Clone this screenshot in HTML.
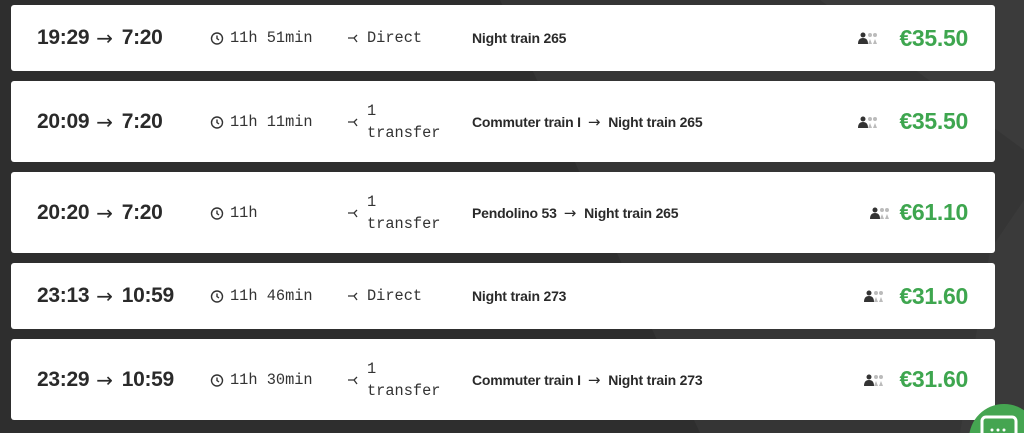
<!DOCTYPE html>
<html><head><meta charset="utf-8"><style>
*{margin:0;padding:0;box-sizing:border-box}
html,body{width:1024px;height:433px;overflow:hidden}
body{position:relative;background:#2e2e2e;font-family:"Liberation Sans",sans-serif;color:#2a2a2a}
.bg{position:absolute;inset:0;display:block}
.card{position:absolute;left:11px;width:984px;background:#fff;border-radius:3px}
.c{position:absolute;top:0;bottom:0;display:flex;align-items:center;white-space:nowrap}
.a{font-family:"DejaVu Sans",sans-serif;font-weight:normal}
.time{left:26px;font-size:21px;font-weight:bold;letter-spacing:-0.3px}
.time .a{font-size:20px;margin:0 9px 0 7px}
.dur{left:199px;font-family:"Liberation Mono",monospace;font-size:15.3px;color:#333}
.tr{left:336px;font-family:"Liberation Mono",monospace;font-size:15.3px;color:#333;line-height:22px}
.train{left:461px;font-size:14px;font-weight:bold;letter-spacing:-0.2px}
.train .a{font-size:15px;margin:0 8px 0 7px}
.price{right:27px;font-size:23px;font-weight:bold;color:#3ea64f;letter-spacing:-0.3px}
.ppl{position:absolute;top:0;bottom:0;display:flex;align-items:center}
svg.i{margin-right:6px}
</style></head><body>
<svg class="bg" width="1024" height="433"><polygon points="500,0 1024,0 1024,433 700,433" fill="#353535"/><polygon points="820,0 1024,0 1024,150" fill="#3b3b3b"/><polygon points="990,250 1024,200 1024,433 960,433" fill="#3a3a3a"/></svg>

<div class="card" style="top:5px;height:66px">
<div class="c time">19:29<span class="a">→</span>7:20</div>
<div class="c dur"><svg class="i" width="14" height="14" viewBox="0 0 14 14"><circle cx="7" cy="7.5" r="5.5" fill="none" stroke="#333" stroke-width="1.4"/><path d="M7 4.5V7.5L9 9" stroke="#333" stroke-width="1.4" fill="none"/></svg>11h 51min</div>
<div class="c tr"><svg class="i" width="14" height="12" viewBox="0 0 14 12"><path d="M1 6H7L10 3M7 6L10 10" stroke="#333" stroke-width="1.3" fill="none"/></svg>Direct</div>
<div class="c train">Night train 265</div>
<div class="ppl" style="right:117px"><svg width="20" height="12"><circle cx="5" cy="3" r="2.5" fill="#333"/><path d="M0 12Q0 6 5 6Q10 6 10 12Z" fill="#333"/><circle cx="12" cy="3" r="2" fill="#bbb"/><circle cx="17" cy="3" r="2" fill="#bbb"/><path d="M10 12L12 7L14 12M15 12L17 7L19 12" fill="#bbb"/></svg></div>
<div class="c price">€35.50</div>
</div>

<div class="card" style="top:81px;height:81px">
<div class="c time">20:09<span class="a">→</span>7:20</div>
<div class="c dur"><svg class="i" width="14" height="14" viewBox="0 0 14 14"><circle cx="7" cy="7.5" r="5.5" fill="none" stroke="#333" stroke-width="1.4"/><path d="M7 4.5V7.5L9 9" stroke="#333" stroke-width="1.4" fill="none"/></svg>11h 11min</div>
<div class="c tr"><svg class="i" width="14" height="12" viewBox="0 0 14 12"><path d="M1 6H7L10 3M7 6L10 10" stroke="#333" stroke-width="1.3" fill="none"/></svg><span>1<br>transfer</span></div>
<div class="c train">Commuter train I<span class="a">→</span>Night train 265</div>
<div class="ppl" style="right:117px"><svg width="20" height="12"><circle cx="5" cy="3" r="2.5" fill="#333"/><path d="M0 12Q0 6 5 6Q10 6 10 12Z" fill="#333"/><circle cx="12" cy="3" r="2" fill="#bbb"/><circle cx="17" cy="3" r="2" fill="#bbb"/><path d="M10 12L12 7L14 12M15 12L17 7L19 12" fill="#bbb"/></svg></div>
<div class="c price">€35.50</div>
</div>

<div class="card" style="top:172px;height:81px">
<div class="c time">20:20<span class="a">→</span>7:20</div>
<div class="c dur"><svg class="i" width="14" height="14" viewBox="0 0 14 14"><circle cx="7" cy="7.5" r="5.5" fill="none" stroke="#333" stroke-width="1.4"/><path d="M7 4.5V7.5L9 9" stroke="#333" stroke-width="1.4" fill="none"/></svg>11h</div>
<div class="c tr"><svg class="i" width="14" height="12" viewBox="0 0 14 12"><path d="M1 6H7L10 3M7 6L10 10" stroke="#333" stroke-width="1.3" fill="none"/></svg><span>1<br>transfer</span></div>
<div class="c train">Pendolino 53<span class="a">→</span>Night train 265</div>
<div class="ppl" style="right:105px"><svg width="20" height="12"><circle cx="5" cy="3" r="2.5" fill="#333"/><path d="M0 12Q0 6 5 6Q10 6 10 12Z" fill="#333"/><circle cx="12" cy="3" r="2" fill="#bbb"/><circle cx="17" cy="3" r="2" fill="#bbb"/><path d="M10 12L12 7L14 12M15 12L17 7L19 12" fill="#bbb"/></svg></div>
<div class="c price">€61.10</div>
</div>

<div class="card" style="top:263px;height:66px">
<div class="c time">23:13<span class="a">→</span>10:59</div>
<div class="c dur"><svg class="i" width="14" height="14" viewBox="0 0 14 14"><circle cx="7" cy="7.5" r="5.5" fill="none" stroke="#333" stroke-width="1.4"/><path d="M7 4.5V7.5L9 9" stroke="#333" stroke-width="1.4" fill="none"/></svg>11h 46min</div>
<div class="c tr"><svg class="i" width="14" height="12" viewBox="0 0 14 12"><path d="M1 6H7L10 3M7 6L10 10" stroke="#333" stroke-width="1.3" fill="none"/></svg>Direct</div>
<div class="c train">Night train 273</div>
<div class="ppl" style="right:111px"><svg width="20" height="12"><circle cx="5" cy="3" r="2.5" fill="#333"/><path d="M0 12Q0 6 5 6Q10 6 10 12Z" fill="#333"/><circle cx="12" cy="3" r="2" fill="#bbb"/><circle cx="17" cy="3" r="2" fill="#bbb"/><path d="M10 12L12 7L14 12M15 12L17 7L19 12" fill="#bbb"/></svg></div>
<div class="c price">€31.60</div>
</div>

<div class="card" style="top:339px;height:81px">
<div class="c time">23:29<span class="a">→</span>10:59</div>
<div class="c dur"><svg class="i" width="14" height="14" viewBox="0 0 14 14"><circle cx="7" cy="7.5" r="5.5" fill="none" stroke="#333" stroke-width="1.4"/><path d="M7 4.5V7.5L9 9" stroke="#333" stroke-width="1.4" fill="none"/></svg>11h 30min</div>
<div class="c tr"><svg class="i" width="14" height="12" viewBox="0 0 14 12"><path d="M1 6H7L10 3M7 6L10 10" stroke="#333" stroke-width="1.3" fill="none"/></svg><span>1<br>transfer</span></div>
<div class="c train">Commuter train I<span class="a">→</span>Night train 273</div>
<div class="ppl" style="right:111px"><svg width="20" height="12"><circle cx="5" cy="3" r="2.5" fill="#333"/><path d="M0 12Q0 6 5 6Q10 6 10 12Z" fill="#333"/><circle cx="12" cy="3" r="2" fill="#bbb"/><circle cx="17" cy="3" r="2" fill="#bbb"/><path d="M10 12L12 7L14 12M15 12L17 7L19 12" fill="#bbb"/></svg></div>
<div class="c price">€31.60</div>
</div>

<svg style="position:absolute;left:960px;top:395px;display:block" width="64" height="38"><circle cx="44" cy="44" r="35" fill="#45a551"/><rect x="22" y="22" width="34" height="26" rx="4" fill="none" stroke="#fff" stroke-width="3"/><circle cx="32" cy="35" r="1.5" fill="#fff"/><circle cx="38" cy="35" r="1.5" fill="#fff"/><circle cx="44" cy="35" r="1.5" fill="#fff"/></svg>
</body></html>
